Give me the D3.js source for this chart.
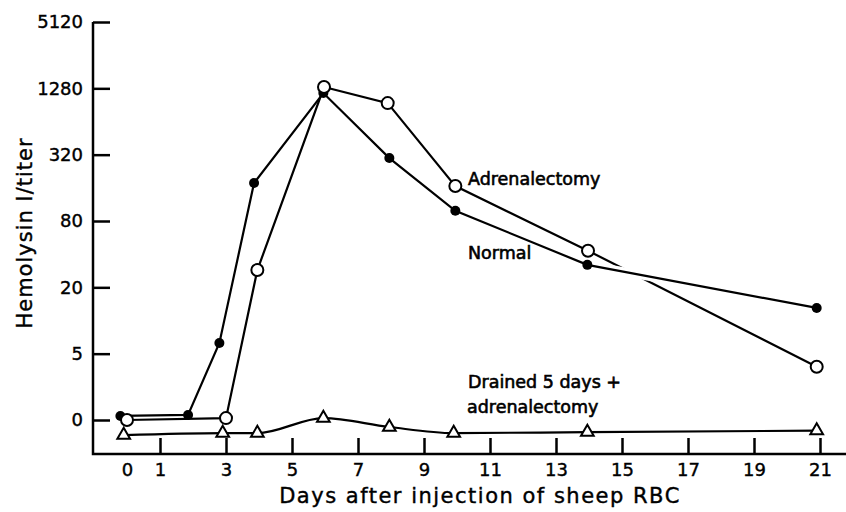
<!DOCTYPE html>
<html>
<meta charset="utf-8">
<style>
body { margin: 0; background: #fff; }
svg text { font-family: "DejaVu Sans", sans-serif; fill: #000; stroke: #000; stroke-width: 0.4px; }
.axis line { stroke: #000; stroke-width: 2.5px; }
.axis text { font-size: 18px; }
.lbl { font-size: 17.5px; stroke-width: 0.6px; }
</style>
<body>
<script src="https://d3js.org/d3.v7.min.js"></script>
<script>
var width = 846,
    height = 512;

// titer steps of 4, the "0" row sits one step under 5
var titerTicks = [0, 5, 20, 80, 320, 1280, 5120];
var dayTicks = [0, 1, 3, 5, 7, 9, 11, 13, 15, 17, 19, 21];

var normalDays  = [-0.2, 1.85, 2.8, 3.85, 5.95, 7.95, 9.95, 13.95, 20.9];
var normalTiter = [1.36, 1.39, 6.25, 177, 1160, 298, 99, 32, 13];

var adrenDays   = [0, 3, 3.95, 5.97, 7.9, 9.95, 13.97, 20.9];
var adrenTiter  = [1.25, 1.3, 28.7, 1315, 940, 166, 43, 3.8];

var drainDays   = [-0.1, 2.9, 3.95, 5.95, 7.95, 9.9, 13.95, 20.9];
var drainTiter  = [0.91, 0.95, 0.95, 1.3, 1.08, 0.95, 0.97, 1.0];

var zeroAt = 1.25;

var svg = d3.select("body").append("svg")
    .attr("width", width)
    .attr("height", height);

var x = d3.scaleLinear().domain([0, 21]).range([127, 820]);
var y = d3.scaleLog().base(4).domain([zeroAt, 5120]).range([420, 22]);

function pairs(days, vals) {
  return days.map(function(d, i) { return [d, vals[i]]; });
}
var normal = pairs(normalDays, normalTiter),
    adren = pairs(adrenDays, adrenTiter),
    drain = pairs(drainDays, drainTiter);

// axes
var yAxis = d3.axisLeft(y)
    .tickValues(titerTicks.map(function(t) { return t === 0 ? zeroAt : t; }))
    .tickFormat(function(d) { return d === zeroAt ? "0" : d; })
    .tickSize(-17)
    .tickPadding(10);
var gy = svg.append("g").attr("class", "axis")
    .attr("transform", "translate(93,0)")
    .call(yAxis);
gy.select(".domain").remove();

var xAxis = d3.axisBottom(x)
    .tickValues(dayTicks)
    .tickSize(-16)
    .tickPadding(9);
var gx = svg.append("g").attr("class", "axis")
    .attr("transform", "translate(0,454)")
    .call(xAxis);
gx.select(".domain").remove();
gx.selectAll(".tick line").filter(function(d) { return d === 0; }).remove();

svg.append("path")
    .attr("d", "M93," + y(5120) + "V454H" + width)
    .style("fill", "none")
    .style("stroke", "#000")
    .style("stroke-width", "2.5px");

// lines
var line = d3.line()
    .x(function(d) { return x(d[0]); })
    .y(function(d) { return y(d[1]); });

function drawLine(data, curve) {
  return svg.append("path")
    .datum(data)
    .attr("d", line.curve(curve || d3.curveLinear))
    .style("fill", "none")
    .style("stroke", "#000")
    .style("stroke-width", "2.2px");
}

drawLine(drain, d3.curveMonotoneX);
drawLine(adren);
// break in the adrenalectomy line where it passes under the normal one
drawLine(normal.slice(-2)).style("stroke", "#fff").style("stroke-width", "9px");
drawLine(normal);

// markers
svg.selectAll(".dot")
    .data(normal)
    .enter().append("circle")
    .attr("class", "dot")
    .attr("cx", function(d) { return x(d[0]); })
    .attr("cy", function(d) { return y(d[1]); })
    .attr("r", 5)
    .style("fill", "#000");

svg.selectAll(".ring")
    .data(adren)
    .enter().append("circle")
    .attr("class", "ring")
    .attr("cx", function(d) { return x(d[0]); })
    .attr("cy", function(d) { return y(d[1]); })
    .attr("r", 6)
    .style("fill", "#fff")
    .style("stroke", "#000")
    .style("stroke-width", "2px");

svg.selectAll(".tri")
    .data(drain)
    .enter().append("path")
    .attr("class", "tri")
    .attr("d", d3.symbol(d3.symbolTriangle, 70))
    .attr("transform", function(d) { return "translate(" + x(d[0]) + "," + y(d[1]) + ")"; })
    .style("fill", "#fff")
    .style("stroke", "#000")
    .style("stroke-width", "2px");

// labels
svg.append("text").attr("class", "lbl").attr("x", 468).attr("y", 185).text("Adrenalectomy");
svg.append("text").attr("class", "lbl").attr("x", 468).attr("y", 259).text("Normal");
svg.append("text").attr("class", "lbl").attr("x", 468).attr("y", 388).text("Drained 5 days +");
svg.append("text").attr("class", "lbl").attr("x", 467).attr("y", 413).text("adrenalectomy");

svg.append("text")
    .attr("transform", "translate(32,233) rotate(-90)")
    .attr("text-anchor", "middle")
    .style("font-size", "21px")
    .style("letter-spacing", "1px")
    .text("Hemolysin I/titer");

svg.append("text")
    .attr("x", 480)
    .attr("y", 503)
    .attr("text-anchor", "middle")
    .style("font-size", "21px")
    .style("letter-spacing", "1.5px")
    .text("Days after injection of sheep RBC");
</script>
</body>
</html>
